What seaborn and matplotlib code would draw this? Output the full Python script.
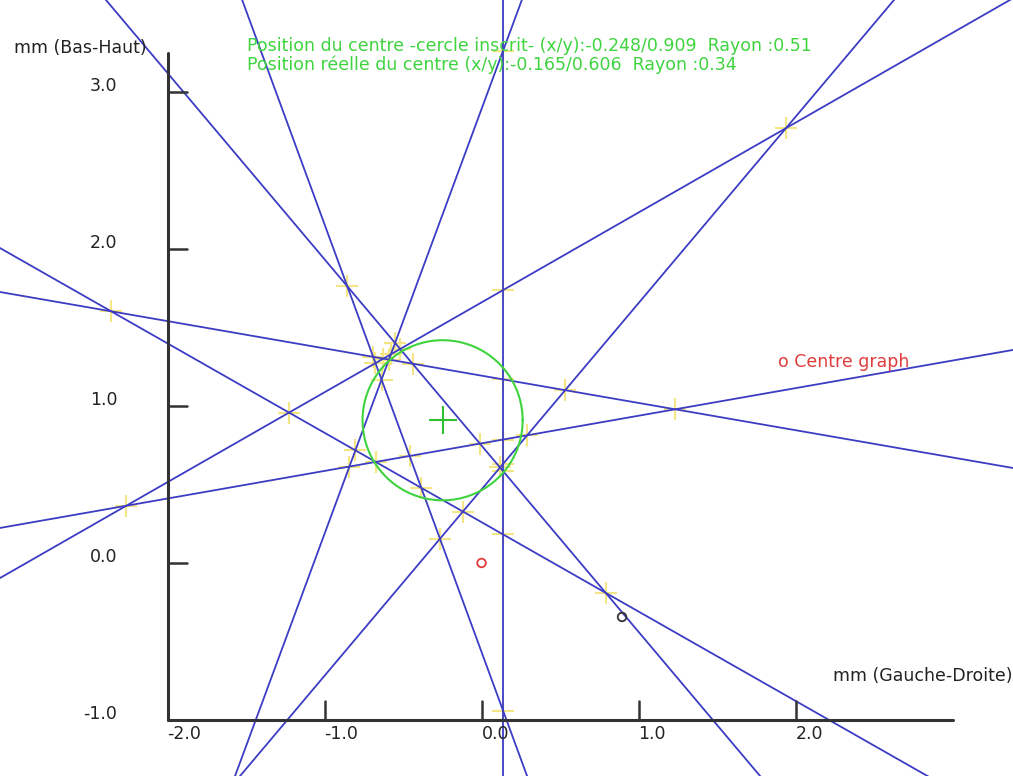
import itertools
import numpy as np
import pandas as pd
import matplotlib
matplotlib.use("Agg")
import matplotlib.pyplot as plt
import seaborn as sns

# lines given by two points each (mm)
line_names = ["v", "a", "b", "c", "d", "f", "g", "h", "k"]
line_x0 = [0.137, -3.067, -3.067, -3.067, -1.538, -1.570, -1.494, -2.322, -3.067]
line_y0 = [-1.357, 1.726, 0.223, -0.096, -1.357, -1.357, 3.503, 3.503, 2.006]
line_x1 = [0.137, 3.385, 3.385, 3.220, 2.557, 0.226, 0.290, 1.774, 2.213]
line_y1 = [3.586, 0.605, 1.357, 3.503, 3.503, 3.503, -1.357, -1.357, -1.000]

# inscribed circle and points
circle_x, circle_y, circle_r = -0.248, 0.909, 0.51
graph_centre = (0.0, 0.0)
real_point = (0.895, -0.344)

x_ticks = [-2.0, -1.0, 0.0, 1.0, 2.0]
y_ticks = [-1.0, 0.0, 1.0, 2.0, 3.0]
x_tick_labels = ["-2.0", "-1.0", "0.0", "1.0", "2.0"]
y_tick_labels = ["-1.0", "0.0", "1.0", "2.0", "3.0"]

info_line1 = "Position du centre -cercle inscrit- (x/y):-0.248/0.909  Rayon :0.51"
info_line2 = "Position réelle du centre (x/y):-0.165/0.606  Rayon :0.34"

xmin, xmax = -3.067, 3.385
ymin, ymax = -1.357, 3.586

sns.set_style("white")
plt.rcParams["font.family"] = ["DejaVu Sans"]

fig = plt.figure(figsize=(10.13, 7.76), dpi=100)
ax = fig.add_axes([0, 0, 1, 1])

blue = "#3c3cc4"
green = "#3ed43e"

# extend each line well beyond the view, axes clip it
rows = []
for name, x0, y0, x1, y1 in zip(line_names, line_x0, line_y0, line_x1, line_y1):
    for t in (-5, 6):
        rows.append({"line": name, "x": x0 + t * (x1 - x0), "y": y0 + t * (y1 - y0)})
lines_df = pd.DataFrame(rows)
sns.lineplot(data=lines_df, x="x", y="y", units="line", estimator=None, sort=False,
             color=blue, linewidth=1.3, ax=ax, zorder=3)

# intersections of every pair of lines
pts = []
for i, j in itertools.combinations(range(len(line_names)), 2):
    p = np.array([line_x0[i], line_y0[i]])
    r = np.array([line_x1[i] - line_x0[i], line_y1[i] - line_y0[i]])
    q = np.array([line_x0[j], line_y0[j]])
    s = np.array([line_x1[j] - line_x0[j], line_y1[j] - line_y0[j]])
    den = r[0] * s[1] - r[1] * s[0]
    if abs(den) < 1e-9:
        continue
    t = ((q[0] - p[0]) * s[1] - (q[1] - p[1]) * s[0]) / den
    xi, yi = p + t * r
    if xmin < xi < xmax and ymin < yi < ymax:
        pts.append({"x": xi, "y": yi})
inter_df = pd.DataFrame(pts)
sns.scatterplot(data=inter_df, x="x", y="y", marker="+", s=230, color="#f4e684",
                linewidth=1.5, ax=ax, zorder=2)

# axes drawn by hand
axis_col = "#333333"
txt_col = "#222222"
ax.plot([-2.0, -2.0], [-1.0, 3.25], color=axis_col, lw=2.2, zorder=4)
ax.plot([-2.0, 3.0], [-1.0, -1.0], color=axis_col, lw=2.2, zorder=4)
for yt, lab in zip(y_ticks, y_tick_labels):
    if yt > -1.0:
        ax.plot([-2.0, -1.873], [yt, yt], color=axis_col, lw=1.8, zorder=4)
    ax.text(-2.32, yt + 0.04, lab, ha="right", va="center", fontsize=12.5, color=txt_col)
for xt, lab in zip(x_ticks, x_tick_labels):
    if xt > -2.0:
        ax.plot([xt, xt], [-1.0, -0.879], color=axis_col, lw=1.8, zorder=4)
    ax.text(xt, -1.092, lab, ha="left", va="center", fontsize=12.5, color=txt_col)

ax.text(-2.13, 3.28, "mm (Bas-Haut)", ha="right", va="center", fontsize=12.5, color=txt_col)
ax.text(3.379, -0.72, "mm (Gauche-Droite)", ha="right", va="center", fontsize=12.5, color=txt_col)

# inscribed circle
theta = np.linspace(0, 2 * np.pi, 300)
ax.plot(circle_x + circle_r * np.cos(theta), circle_y + circle_r * np.sin(theta),
        color=green, lw=1.5, zorder=5)
ax.scatter([circle_x], [circle_y], marker="+", s=380, color="#2fbf2f", linewidths=1.5, zorder=5)

ax.scatter([graph_centre[0]], [graph_centre[1]], marker="o", s=38, facecolors="none",
           edgecolors="#e03c3c", linewidths=1.3, zorder=6)
ax.scatter([real_point[0]], [real_point[1]], marker="o", s=38, facecolors="none",
           edgecolors="#333333", linewidths=1.3, zorder=6)

ax.text(1.889, 1.28, "o Centre graph", ha="left", va="center", fontsize=12.5, color="#e03c3c")
ax.text(-1.494, 3.293, info_line1, ha="left", va="center", fontsize=12.5, color=green)
ax.text(-1.494, 3.172, info_line2, ha="left", va="center", fontsize=12.5, color=green)

ax.set_xlim(xmin, xmax)
ax.set_ylim(ymin, ymax)
ax.axis("off")

fig.savefig("out.png", dpi=100)
